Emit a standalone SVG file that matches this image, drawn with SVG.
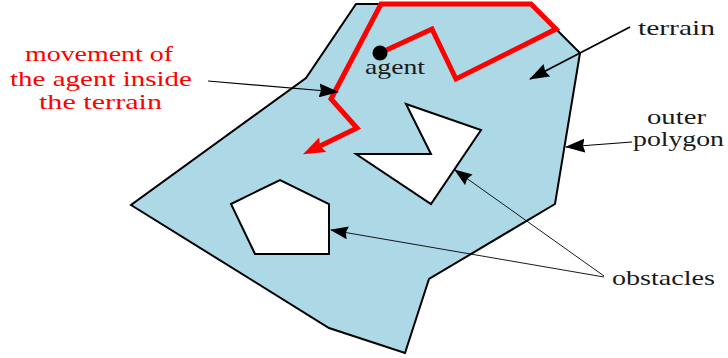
<svg xmlns="http://www.w3.org/2000/svg" width="728" height="358" viewBox="0 0 728 358">
<style>
  text { font-family: 'Liberation Serif', 'DejaVu Serif', 'Times New Roman', serif; font-size: 21px; }
  .lbl { fill: #1a1a1a; }
  .red { fill: #ff0000; }
  .poly { stroke: #000; stroke-width: 2; stroke-linejoin: miter; }
  .arr { fill: none; stroke: #000; }
</style>
<defs>
  <marker id="ah" markerUnits="userSpaceOnUse" markerWidth="20" markerHeight="14" viewBox="0 0 20 14" refX="19" refY="7" orient="auto">
    <path d="M0,0 L20,7 L0,14 L2,7 z" fill="#000"/>
  </marker>
  <marker id="ahs" markerUnits="userSpaceOnUse" markerWidth="18" markerHeight="13" viewBox="0 0 18 13" refX="17" refY="6.5" orient="auto">
    <path d="M0,0 L18,6.5 L0,13 L2,6.5 z" fill="#000"/>
  </marker>
  <marker id="rh" markerUnits="userSpaceOnUse" markerWidth="22" markerHeight="16" viewBox="0 0 22 16" refX="3" refY="8" orient="auto">
    <path d="M0,0 L22,8 L0,16 L3,8 z" fill="#ff0000"/>
  </marker>
</defs>

<g id="terrain">
  <polygon class="poly" fill="#add8e6" points="356,4 531,4 580,53 555,204 429,279 405,353 329,328 131,205 306,78"/>
</g>
<g id="obstacle-pentagon">
  <polygon class="poly" fill="#fff" points="231,204 280,180 329,204 329,254 255,254"/>
</g>
<g id="obstacle-star">
  <polygon class="poly" fill="#fff" points="406,104 481,130 431,204 356,154 431,154"/>
</g>

<g id="agent-path">
  <polyline fill="none" stroke="#ff0000" stroke-width="5" stroke-linejoin="miter" marker-end="url(#rh)" points="380,53 432,29 456,79 556,29 531,4 381,4 331,99 357,128 320,146"/>
</g>
<g id="agent">
  <circle cx="380" cy="53" r="7.5" fill="#000"/>
  <text class="lbl" x="365" y="74" textLength="60" lengthAdjust="spacingAndGlyphs">agent</text>
</g>

<g id="connectors">
  <line class="arr" stroke-width="1.2" x1="208" y1="81" x2="338" y2="92" marker-end="url(#ah)"/>
  <line class="arr" stroke-width="1.8" x1="630" y1="27" x2="530" y2="79" marker-end="url(#ah)"/>
  <line class="arr" stroke-width="1.2" x1="632" y1="142" x2="566" y2="147" marker-end="url(#ah)"/>
  <line class="arr" stroke-width="0.9" x1="604" y1="276" x2="455" y2="170" marker-end="url(#ahs)"/>
  <line class="arr" stroke-width="0.9" x1="604" y1="277" x2="331" y2="230" marker-end="url(#ahs)"/>
</g>

<g id="label-movement">
  <text class="red" x="25" y="61" textLength="148" lengthAdjust="spacingAndGlyphs">movement of</text>
  <text class="red" x="10" y="86" textLength="182" lengthAdjust="spacingAndGlyphs">the agent inside</text>
  <text class="red" x="39" y="109" textLength="123" lengthAdjust="spacingAndGlyphs">the terrain</text>
</g>
<g id="label-terrain">
  <text class="lbl" x="638" y="35" textLength="77" lengthAdjust="spacingAndGlyphs">terrain</text>
</g>
<g id="label-outer">
  <text class="lbl" x="647" y="124" textLength="59" lengthAdjust="spacingAndGlyphs">outer</text>
  <text class="lbl" x="633" y="146" textLength="91" lengthAdjust="spacingAndGlyphs">polygon</text>
</g>
<g id="label-obstacles">
  <text class="lbl" x="612" y="285" textLength="103" lengthAdjust="spacingAndGlyphs">obstacles</text>
</g>
</svg>
